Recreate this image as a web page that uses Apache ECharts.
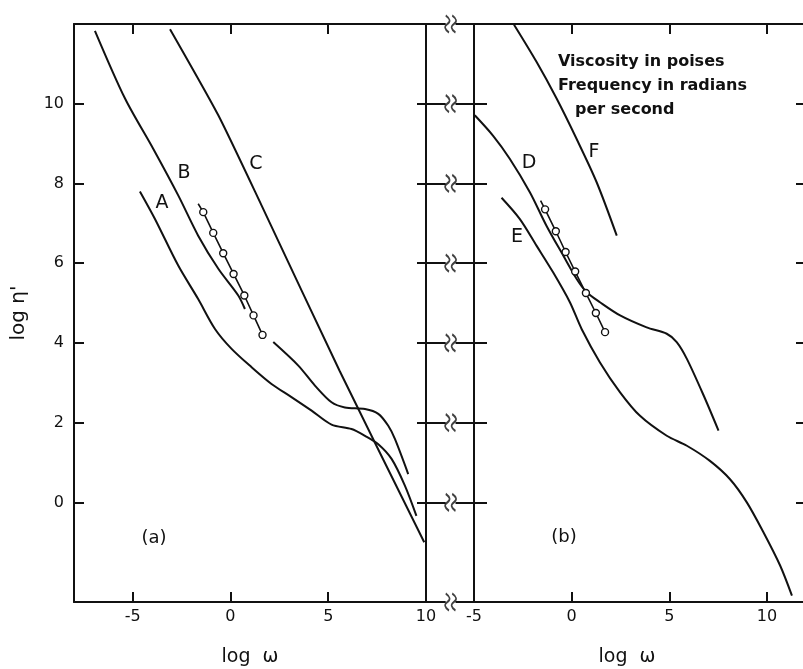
<!DOCTYPE html>
<html>
<head>
<meta charset="utf-8">
<script src="https://cdn.jsdelivr.net/npm/echarts@6/dist/echarts.min.js"></script>
<style>
  html, body { margin: 0; padding: 0; background: #fff; }
  #main { width: 803px; height: 669px; }
</style>
</head>
<body>
<div id="main"></div>
<script>
// tick values
const xTicksA = [-5, 0, 5];
const xLabelsA = [-5, 0, 5, 10];
const xTicksB = [0, 5, 10];
const xLabelsB = [-5, 0, 5, 10];
const yTicks = [0, 2, 4, 6, 8, 10];
// levels where the broken-axis strip has its tick lines
const stripLevels = [12, 10, 8, 6, 4, 2, 0, -2.5];

// panel (a) curves: [log w, log eta']
const curveA = [[-4.63, 7.80], [-3.86, 7.11], [-2.67, 5.94], [-1.65, 5.10], [-0.79, 4.35], [0.06, 3.85],
  [1.08, 3.39], [2.10, 2.97], [3.12, 2.64], [4.15, 2.30], [5.17, 1.95], [6.19, 1.84], [6.88, 1.67],
  [7.56, 1.46], [8.24, 1.09], [8.92, 0.42], [9.51, -0.34]];
const curveBUpper = [[-6.93, 11.83], [-5.39, 10.13], [-3.95, 8.87], [-2.67, 7.70], [-1.65, 6.69],
  [-0.62, 5.86], [0.40, 5.19], [0.74, 4.85]];
const curveBLower = [[2.19, 4.02], [3.47, 3.43], [4.32, 2.93], [5.17, 2.51], [5.85, 2.38], [6.88, 2.34],
  [7.56, 2.22], [8.07, 1.92], [8.41, 1.59], [9.09, 0.71]];
const curveC = [[-3.09, 11.87], [-0.62, 9.71], [1.59, 7.45], [5.58, 3.30], [9.91, -1.0]];
const leadA = [-1.65, 7.49];
const pointsA = [[-1.39, 7.28], [-0.88, 6.76], [-0.37, 6.25], [0.16, 5.73], [0.71, 5.19], [1.18, 4.69], [1.64, 4.20]];

// panel (b) curves
const curveD = [[-4.96, 9.71], [-4.03, 9.20], [-3.17, 8.62], [-2.14, 7.78], [-1.29, 6.94], [-0.43, 6.19],
  [0.25, 5.61], [0.77, 5.27], [1.45, 5.02], [2.48, 4.69], [3.84, 4.39], [4.87, 4.23], [5.38, 4.02],
  [5.90, 3.60], [6.76, 2.68], [7.52, 1.80]];
const curveE = [[-3.59, 7.64], [-2.66, 7.11], [-1.80, 6.44], [-0.95, 5.77], [-0.09, 5.02], [0.51, 4.35],
  [1.45, 3.51], [2.48, 2.76], [3.50, 2.17], [4.87, 1.67], [5.90, 1.42], [7.08, 1.04], [8.11, 0.58],
  [8.97, 0.0], [9.82, -0.75], [10.68, -1.59], [11.28, -2.34]];
const curveF = [[-2.95, 11.98], [-1.80, 11.05], [-0.77, 10.13], [0.25, 9.12], [1.28, 8.03], [2.31, 6.69]];
const leadB = [-1.59, 7.57];
const pointsB = [[-1.36, 7.35], [-0.81, 6.80], [-0.31, 6.28], [0.18, 5.79], [0.73, 5.25], [1.24, 4.75], [1.71, 4.27]];

const ink = '#111';
const font = 'DejaVu Sans';
const squiggle = 'path://M2,0 C5,3 5,5 3,7 C1,9 1,11 4,14 M6,0 C9,3 9,5 7,7 C5,9 5,11 8,14';

let myChart = echarts.init(document.getElementById('main'), null, { renderer: 'canvas' });

// axis indexes: panel a -> x 0 / y 0, panel b -> x 2 / y 1, strip -> x 4 / y 4
function curve(name, data, xi, yi, smooth) {
  return {
    name: name, type: 'line', xAxisIndex: xi, yAxisIndex: yi,
    data: data, smooth: smooth, symbol: 'none', silent: true,
    lineStyle: { color: ink, width: 2 }
  };
}
function circles(name, lead, pts, xi, yi) {
  let d = [{ value: lead, symbol: 'none' }].concat(pts);
  return {
    name: name, type: 'line', xAxisIndex: xi, yAxisIndex: yi, data: d,
    symbol: 'circle', symbolSize: 7, showAllSymbol: true, silent: true,
    lineStyle: { color: ink, width: 1.6 },
    itemStyle: { color: '#fff', borderColor: ink, borderWidth: 1.4 }
  };
}
function xAx(gi, pos, min, max, ticks, labels, name, pad) {
  return {
    gridIndex: gi, type: 'value', position: pos, min: min, max: max,
    axisLine: { show: true, onZero: false, lineStyle: { color: ink, width: 2 } },
    axisTick: { show: true, inside: true, length: 10, customValues: ticks, lineStyle: { color: ink, width: 2 } },
    axisLabel: labels ? { show: true, customValues: labels, margin: 7, color: ink, fontFamily: font, fontSize: 16 } : { show: false },
    splitLine: { show: false },
    name: name || '', nameLocation: 'middle', nameGap: 46,
    nameTextStyle: { color: ink, fontFamily: font, fontSize: 19, padding: pad || 0 }
  };
}
function yAx(gi, pos, ticks, labels, name) {
  return {
    gridIndex: gi, type: 'value', position: pos, min: -2.5, max: 12,
    axisLine: { show: true, onZero: false, lineStyle: { color: ink, width: 2 } },
    axisTick: ticks ? { show: true, inside: true, length: 10, customValues: ticks, lineStyle: { color: ink, width: 2 } } : { show: false },
    axisLabel: labels ? { show: true, customValues: labels, margin: 10, color: ink, fontFamily: font, fontSize: 16 } : { show: false },
    splitLine: { show: false },
    name: name || '', nameLocation: 'middle', nameGap: 45, nameRotate: 90,
    nameTextStyle: { color: ink, fontFamily: font, fontSize: 20 }
  };
}

let stripLines = [];
stripLevels.forEach((v) => {
  stripLines.push({ coords: [[0, v], [0.41, v]] });
  stripLines.push({ coords: [[0.55, v], [1, v]] });
});

function txt(x, y, s, size, weight, align) {
  return {
    type: 'text', x: x, y: y,
    style: {
      text: s, fill: ink, font: (weight || 'normal') + ' ' + (size || 19) + 'px "' + font + '"',
      textAlign: align || 'center', textVerticalAlign: 'middle'
    }
  };
}

let option = {
  animation: false,
  backgroundColor: '#fff',
  grid: [
    { left: 74, top: 24, width: 352, height: 578, outerBoundsMode: 'none' },
    { left: 474, top: 24, width: 332, height: 578, outerBoundsMode: 'none' },
    { left: 417, top: 24, width: 70, height: 578, outerBoundsMode: 'none' }
  ],
  xAxis: [
    xAx(0, 'bottom', -8, 10, xTicksA, xLabelsA, 'log  ω'),
    xAx(0, 'top', -8, 10, xTicksA, null),
    xAx(1, 'bottom', -5, 12, xTicksB, xLabelsB, 'log  ω', [0, 26, 0, 0]),
    xAx(1, 'top', -5, 12, xTicksB, null),
    { gridIndex: 2, type: 'value', min: 0, max: 1, show: false }
  ],
  yAxis: [
    yAx(0, 'left', yTicks, yTicks, "log η'"),
    yAx(1, 'left', null, null),
    yAx(1, 'right', yTicks, null),
    yAx(0, 'right', null, null),
    { gridIndex: 2, type: 'value', min: -2.5, max: 12, show: false }
  ],
  series: [
    curve('A', curveA, 0, 0, 0.3),
    curve('B', curveBUpper, 0, 0, 0.3),
    curve('B2', curveBLower, 0, 0, 0.3),
    curve('C', curveC, 0, 0, 0.2),
    circles('dataA', leadA, pointsA, 0, 0),
    curve('D', curveD, 2, 1, 0.3),
    curve('E', curveE, 2, 1, 0.3),
    curve('F', curveF, 2, 1, 0.3),
    circles('dataB', leadB, pointsB, 2, 1),
    {
      name: 'strip', type: 'lines', coordinateSystem: 'cartesian2d', xAxisIndex: 4, yAxisIndex: 4,
      data: stripLines, clip: false, silent: true,
      lineStyle: { color: ink, width: 2, opacity: 1 }
    },
    {
      name: 'breaks', type: 'scatter', xAxisIndex: 4, yAxisIndex: 4, clip: false, silent: true,
      data: stripLevels.map((v) => [0.48, v]),
      symbol: squiggle, symbolSize: [11, 17],
      itemStyle: { color: 'rgba(0,0,0,0)', borderColor: ink, borderWidth: 2 }
    }
  ],
  graphic: [
    txt(162, 203, 'A'), txt(184, 173, 'B'), txt(256, 164, 'C'),
    txt(529, 163, 'D'), txt(517, 237, 'E'), txt(594, 152, 'F'),
    txt(154, 538, '(a)', 18), txt(564, 537, '(b)', 18),
    txt(558, 62, 'Viscosity in poises', 16, 'bold', 'left'),
    txt(558, 86, 'Frequency in radians', 16, 'bold', 'left'),
    txt(575, 110, 'per second', 16, 'bold', 'left')
  ]
};

myChart.setOption(option);
</script>
</body>
</html>
